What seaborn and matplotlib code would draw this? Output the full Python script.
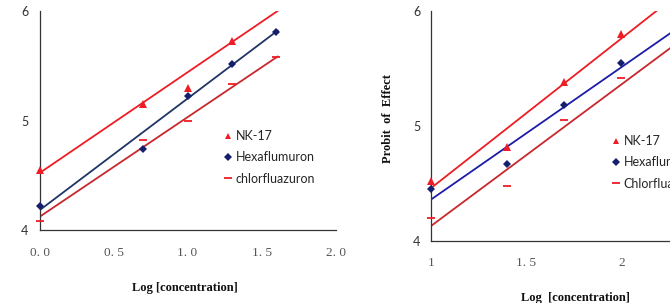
import matplotlib

matplotlib.use("Agg")
import matplotlib.pyplot as plt
from matplotlib.lines import Line2D
import numpy as np
import pandas as pd
import seaborn as sns

sns.set_style("white")

# left panel data
left_x = [0.0, 0.7, 1.0, 1.3, 1.6]
left_nk17 = [4.55, 5.15, 5.30, 5.73, np.nan]
left_hexa = [4.22, 4.74, 5.22, 5.52, 5.81]
left_chlor = [4.08, 4.82, 5.00, 5.33, 5.58]
left_fit = {"NK-17": (4.52, 0.92), "Hexaflumuron": (4.18, 1.02), "chlorfluazuron": (4.12, 0.91)}
left_line_x = [0.0, 1.61]
left_xticks = [0.0, 0.5, 1.0, 1.5, 2.0]
left_xticklabels = ["0. 0", "0. 5", "1. 0", "1. 5", "2. 0"]

# right panel data
right_x = [1.0, 1.4, 1.7, 2.0]
right_nk17 = [4.52, 4.82, 5.38, 5.80]
right_hexa = [4.45, 4.67, 5.18, 5.55]
right_chlor = [4.20, 4.48, 5.05, 5.42]
right_fit = {"NK-17": (4.46, 1.30), "Hexaflumuron": (4.36, 1.15), "Chlorfluazuron": (4.13, 1.23)}
right_line_x = [1.0, 2.4]
right_xticks = [1.0, 1.5, 2.0]
right_xticklabels = ["1", "1. 5", "2"]

yticks = [4, 5, 6]

RED = "#ee1c24"
DARKRED = "#c8272d"
NAVY_L = "#1f3566"
NAVY_R = "#1c1ca8"
MARK_NAVY = "#14206e"

styles = [
    dict(marker="^", color=RED, ms=5.5, mew=0),
    dict(marker="D", color=MARK_NAVY, ms=4, mew=0),
    dict(marker="_", color=RED, ms=6, mew=1.3),
]

fig = plt.figure(figsize=(6.7, 3.03), dpi=100)
axL = fig.add_axes([39.5 / 670, 1 - 230 / 303, 296 / 670, 219 / 303])
axR = fig.add_axes([431.3 / 670, 1 - 240.7 / 303, 285 / 670, 229.7 / 303])


def draw(ax, xs, series, fits, line_x, line_colors, xticks, xticklabels, xlim, legend_pos):
    handles = []
    for (name, ys), st, lc in zip(series.items(), styles, line_colors):
        b0, b1 = fits[name]
        lx = np.array(line_x)
        line_df = pd.DataFrame({"x": lx, "y": b0 + b1 * (lx - xs[0])})
        sns.lineplot(data=line_df, x="x", y="y", color=lc, lw=1.3, ax=ax)
        ax.plot(xs, ys, linestyle="none", marker=st["marker"], color=st["color"],
                ms=st["ms"], mew=st["mew"], mec=st["color"], zorder=3, clip_on=False)
        handles.append(Line2D([], [], linestyle="none", marker=st["marker"], color=st["color"],
                              ms=st["ms"] * 0.9, mew=st["mew"], mec=st["color"], label=name))
    ax.set_xlim(*xlim)
    ax.set_ylim(4, 6)
    ax.set_xticks(xticks)
    ax.set_xticklabels(xticklabels, family="Liberation Serif", fontsize=9.5, color="#555555")
    ax.set_yticks(yticks)
    ax.set_yticklabels([str(t) for t in yticks], family="Lato", fontsize=9, color="#333333")
    ax.tick_params(axis="both", direction="in", length=4, width=0.8, color="#444444")
    ax.tick_params(axis="x", pad=12)
    ax.tick_params(axis="y", pad=8)
    for side in ["top", "right"]:
        ax.spines[side].set_visible(False)
    for side in ["left", "bottom"]:
        ax.spines[side].set_color("#333333")
        ax.spines[side].set_linewidth(0.9)
    ax.set_xlabel("")
    ax.set_ylabel("")
    leg = fig.legend(handles=handles, loc="upper left", bbox_to_anchor=legend_pos,
                     frameon=False, handlelength=0.6, handletextpad=0.35, labelspacing=0.75,
                     prop={"family": "Lato", "size": 9}, borderaxespad=0, borderpad=0)
    return leg


draw(axL, left_x, {"NK-17": left_nk17, "Hexaflumuron": left_hexa, "chlorfluazuron": left_chlor},
     left_fit, left_line_x, [RED, NAVY_L, DARKRED], left_xticks, left_xticklabels,
     (0.0, 2.0), (224 / 670, 1 - 130 / 303))
draw(axR, right_x, {"NK-17": right_nk17, "Hexaflumuron": right_hexa, "Chlorfluazuron": right_chlor},
     right_fit, right_line_x, [RED, NAVY_R, DARKRED], right_xticks, right_xticklabels,
     (1.0, 2.5), (612 / 670, 1 - 135 / 303))

label_font = dict(family="Liberation Serif", fontweight="bold", fontsize=9, color="#111111")
fig.text(185 / 670, 1 - 288 / 303, "Log [concentration]", ha="center", va="center", **label_font)
fig.text(575 / 670, 1 - 298 / 303, "Log  [concentration]", ha="center", va="center", **label_font)
fig.text(388 / 670, 1 - 118 / 303, "Probit  of  Effect", ha="center", va="center",
         rotation=90, **label_font)
fig.text(-6 / 670, 1 - 118 / 303, "Probit  of  Effect", ha="center", va="center",
         rotation=90, **label_font)

fig.savefig("out.png", dpi=100)
